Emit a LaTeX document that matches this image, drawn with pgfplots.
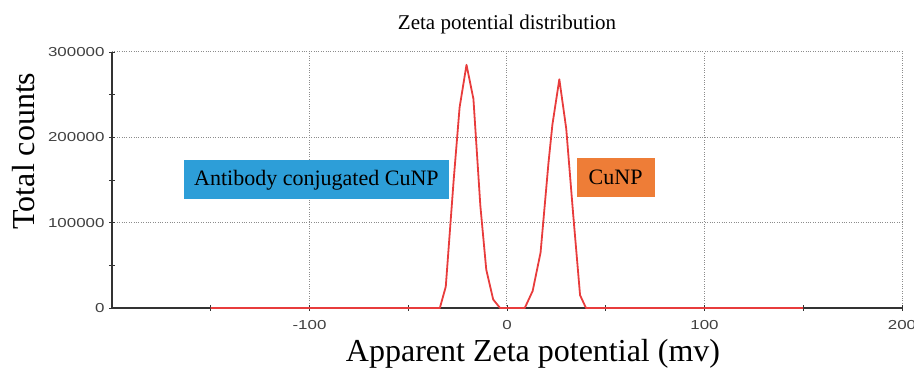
\documentclass[border=0pt]{standalone}
\usepackage{pgfplots}
\pgfplotsset{compat=1.18}
\usepackage{fontspec}
\setmainfont{Liberation Serif}
\setsansfont{Liberation Sans}
\newfontfamily\tickfont{Liberation Sans}[FakeStretch=1.3]
\definecolor{boxblue}{RGB}{45,158,216}
\definecolor{boxorange}{RGB}{238,125,55}
\definecolor{peakred}{RGB}{232,60,60}
\begin{document}
\begin{tikzpicture}
\useasboundingbox (-112pt,-61pt) rectangle (802pt,308pt);
\begin{axis}[
  at={(0,0)}, anchor=south west,
  scale only axis, width=790pt, height=256pt,
  xmin=-200, xmax=200, ymin=0, ymax=300000,
  axis x line*=bottom, axis y line*=left,
  axis line style={-, black!80, line width=1.2pt},
  xtick={-100,0,100,200}, minor xtick={-150,-50,50,150},
  ytick={0,100000,200000,300000}, minor ytick={50000,150000,250000},
  tick align=center, major tick length=6pt, minor tick length=6pt,
  tick style={black!80, line width=0.8pt},
  grid=major, major grid style={black!45, dotted, line width=1pt},
  scaled y ticks=false,
  /pgf/number format/fixed, /pgf/number format/1000 sep={},
  /pgf/number format/assume math mode=true,
  ticklabel style={font=\tickfont\fontsize{13}{15}\selectfont, text=black!75},
  yticklabel style={xshift=-1pt},
  xticklabel style={yshift=-6pt},
  title={Zeta potential distribution},
  title style={font=\fontsize{21}{24}\selectfont, yshift=8pt},
  xlabel={Apparent Zeta potential (mv)},
  xlabel style={font=\fontsize{32}{36}\selectfont, xshift=26pt, yshift=-3pt},
  ylabel={Total counts},
  ylabel style={font=\fontsize{32}{36}\selectfont, xshift=29pt, yshift=6pt},
  clip=false,
]
\addplot[peakred, line width=1.8pt, line join=round] coordinates {
(-150,0) (-34,0) (-31,25000) (-27,150000) (-24,235000) (-20.5,285000)
(-17,245000) (-13.5,120000) (-10.5,45000) (-7,10000) (-3.5,0)
(9,0) (13,20000) (17,65000) (21,170000) (23,215000) (26.5,268000)
(30,210000) (33.5,110000) (37,15000) (40,0) (150,0)
};
\node[fill=boxblue, text=black, font=\fontsize{22}{26}\selectfont,
  minimum width=265pt, minimum height=39pt, inner sep=0pt]
  at (axis cs:-96.5,150000) {Antibody conjugated CuNP};
\node[fill=boxorange, text=black, font=\fontsize{22}{26}\selectfont,
  minimum width=78pt, minimum height=39pt, inner sep=0pt]
  at (axis cs:55,153000) {CuNP};
\end{axis}
\end{tikzpicture}
\end{document}
